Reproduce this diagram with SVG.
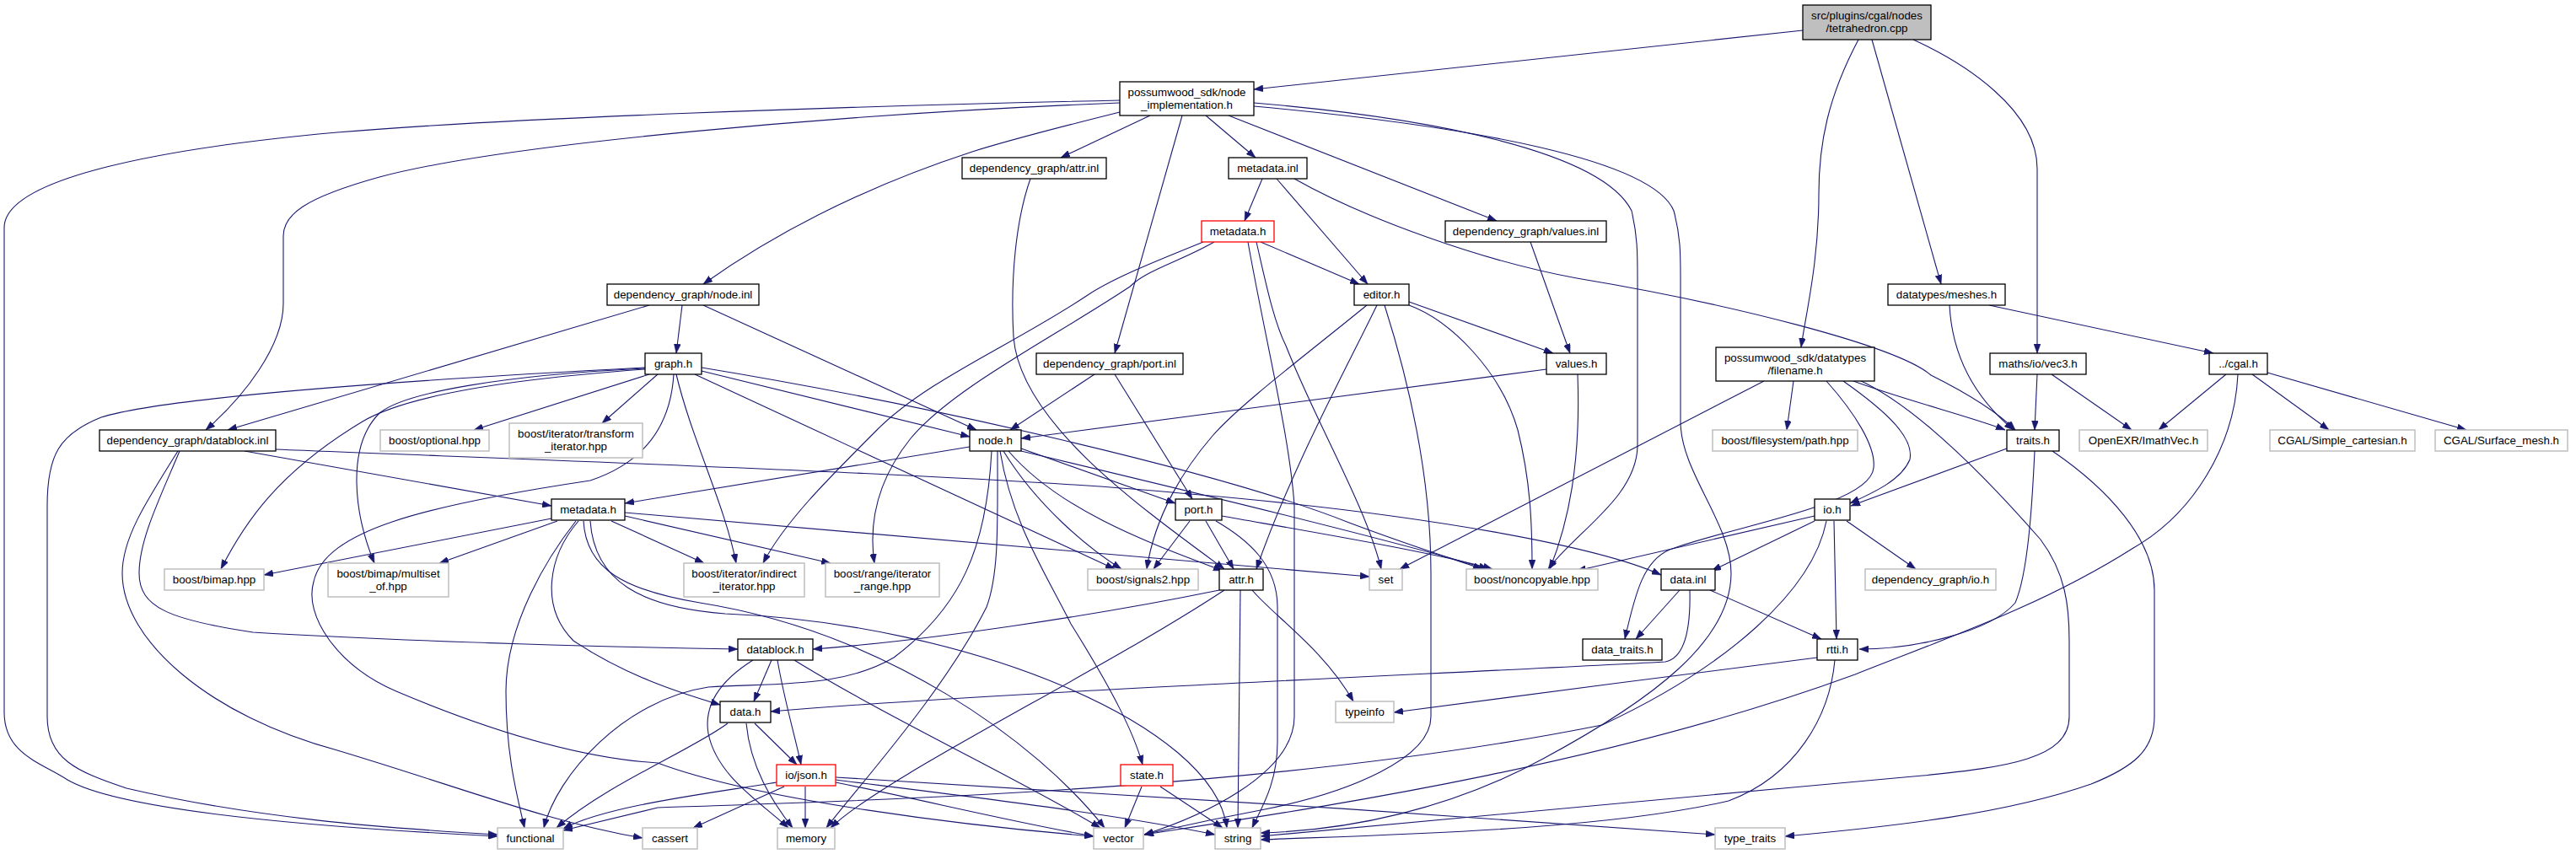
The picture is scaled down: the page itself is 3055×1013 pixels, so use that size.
<svg xmlns="http://www.w3.org/2000/svg" width="3055" height="1013" viewBox="0 0 3055 1013">
<style>
.node rect{fill:#ffffff;stroke:#000000;stroke-width:1.3}
.node.ext rect{stroke:#bfbfbf;stroke-width:1.5}
.node.inc rect{stroke:#ff0000}
.node.root rect{fill:#bfbfbf}
.node text{font-family:"Liberation Sans",Arial,Helvetica,sans-serif;font-size:13.33px;text-anchor:middle;fill:#000000}
#edges path{fill:none;stroke:#191970;stroke-width:1.1;marker-end:url(#arr)}
</style>
<defs>
<marker id="arr" viewBox="0 0 11 8" refX="11" refY="4" markerWidth="11" markerHeight="8" markerUnits="userSpaceOnUse" orient="auto">
<path d="M0,0L11,4L0,8z" fill="#191970" stroke="#191970" stroke-width="0.5"/>
</marker>
</defs>
<rect width="3055" height="1013" fill="#ffffff"/>
<g id="edges">
<path d="M2138,36 L1487,106"/>
<path d="M2204,47 C2168,115 2157,170 2157,230 C2157,310 2142,370 2136,412"/>
<path d="M2220,47 L2302,337"/>
<path d="M2269,47 C2330,75 2416,130 2416,200 L2416,419"/>
<path d="M1328,119 C1000,126 600,140 400,157 C200,175 5,210 5,270 L5,845 C5,895 50,905 80,925 C140,960 350,980 590,992"/>
<path d="M1328,122 C1000,135 600,170 450,210 C360,235 336,255 336,280 L336,360 C336,410 290,470 244,510"/>
<path d="M1328,133 C1260,150 1200,165 1153,180 C1000,230 900,290 834,337"/>
<path d="M1364,137 L1258,187"/>
<path d="M1402,137 L1322,419"/>
<path d="M1430,137 L1489,187"/>
<path d="M1457,137 L1775,262"/>
<path d="M1487,122 C1700,140 1900,180 1935,250 C1942,280 1942,300 1942,330 L1942,530 C1940,590 1870,630 1836,675"/>
<path d="M1487,126 C1750,150 1960,190 1985,250 C1993,280 1993,300 1993,330 L1993,500 C1993,560 2053,620 2053,680 C2053,760 1960,830 1830,900 C1720,960 1600,985 1495,988"/>
<path d="M1222,212 C1205,260 1198,330 1202,400 C1210,500 1350,600 1452,675"/>
<path d="M1497,212 L1476,262"/>
<path d="M1514,212 L1622,337"/>
<path d="M1535,212 C1620,260 1760,310 1870,330 C2050,360 2250,410 2290,445 C2340,470 2370,490 2390,510"/>
<path d="M1495,287 L1612,337"/>
<path d="M1490,287 C1500,330 1510,380 1525,410 C1560,500 1620,600 1638,675"/>
<path d="M1480,287 C1500,400 1530,520 1535,600 L1535,850 C1535,920 1420,970 1357,990"/>
<path d="M1427,287 C1370,310 1320,330 1290,350 C1200,410 1100,450 1040,510 C980,570 930,620 905,668"/>
<path d="M1440,287 C1400,310 1360,320 1340,340 C1250,400 1130,460 1080,520 C1040,570 1030,620 1037,668"/>
<path d="M1815,287 L1862,419"/>
<path d="M1671,358 L1842,419"/>
<path d="M1671,362 C1720,380 1780,440 1800,510 C1815,570 1817,620 1817,675"/>
<path d="M1633,362 C1590,450 1530,560 1490,675"/>
<path d="M1621,362 C1550,420 1470,480 1438,517 C1405,555 1370,610 1360,675"/>
<path d="M1642,362 C1670,450 1697,560 1697,680 L1697,850 C1697,900 1600,940 1500,960 C1420,975 1380,985 1357,990"/>
<path d="M1834,438 L1211,520"/>
<path d="M1871,444 C1875,550 1860,620 1838,675"/>
<path d="M809,362 L802,419"/>
<path d="M834,362 L1158,510"/>
<path d="M770,362 L270,510"/>
<path d="M1298,444 L1198,510"/>
<path d="M1322,444 L1414,592"/>
<path d="M765,436 C500,450 200,470 120,495 C70,515 56,540 56,600 L56,850 C56,900 90,915 150,935 C300,970 450,982 590,990"/>
<path d="M765,437 C600,445 480,465 450,490 C410,530 420,610 444,668"/>
<path d="M765,438 C600,450 480,470 430,500 C330,560 290,620 262,675"/>
<path d="M770,444 L562,510"/>
<path d="M780,444 L714,502"/>
<path d="M802,444 C820,520 860,600 873,668"/>
<path d="M832,440 L1150,518"/>
<path d="M824,444 L1322,675"/>
<path d="M832,436 C1100,480 1450,560 1600,620 C1680,650 1730,665 1758,675"/>
<path d="M799,444 C795,510 760,550 700,570 C500,600 385,630 372,690 C360,730 400,790 470,820 C600,875 700,900 780,905 C900,950 1150,980 1297,992"/>
<path d="M290,535 L654,600"/>
<path d="M327,533 C700,548 1200,565 1400,585 C1700,610 1900,650 1970,682"/>
<path d="M213,535 C190,590 165,640 165,680 C165,720 200,735 300,750 C500,762 750,768 875,770"/>
<path d="M211,535 C170,600 145,640 145,680 C145,760 250,850 400,890 C550,935 650,975 762,994"/>
<path d="M654,615 L313,682"/>
<path d="M661,618 L521,668"/>
<path d="M741,608 L1624,684"/>
<path d="M683,618 C650,660 600,740 600,820 C600,900 615,950 622,982"/>
<path d="M686,618 C650,660 640,720 680,760 C740,800 800,820 854,836"/>
<path d="M725,618 L835,668"/>
<path d="M741,612 L985,668"/>
<path d="M692,618 C695,675 740,700 830,715 C1050,750 1230,880 1310,982"/>
<path d="M700,618 C705,690 760,720 860,728 C1150,740 1440,860 1455,982"/>
<path d="M1150,530 L741,597"/>
<path d="M1211,532 L1394,597"/>
<path d="M1211,535 C1400,580 1650,640 1765,675"/>
<path d="M1190,535 C1230,600 1290,650 1330,675"/>
<path d="M1196,535 C1260,610 1380,650 1450,677"/>
<path d="M1183,535 C1183,620 1185,680 1170,720 C1120,820 1020,930 980,982"/>
<path d="M1186,535 C1200,620 1240,680 1270,740 C1320,820 1345,870 1355,907"/>
<path d="M1176,535 C1170,650 1140,720 1060,780 C1000,815 930,810 840,815 C740,830 660,920 645,982"/>
<path d="M1411,618 L1368,675"/>
<path d="M1430,618 L1463,675"/>
<path d="M1449,612 C1550,630 1700,655 1770,675"/>
<path d="M1442,618 C1480,640 1515,670 1515,720 L1515,880 C1515,930 1495,960 1485,982"/>
<path d="M1446,700 C1300,730 1100,760 964,770"/>
<path d="M1452,700 C1300,800 1050,920 985,982"/>
<path d="M1471,700 L1468,982"/>
<path d="M1485,700 C1510,730 1570,770 1605,832"/>
<path d="M915,783 L894,832"/>
<path d="M922,783 C930,830 942,870 950,907"/>
<path d="M893,783 C850,810 835,840 840,870 C850,920 900,950 935,982"/>
<path d="M942,783 C1050,850 1220,930 1305,982"/>
<path d="M895,858 L945,907"/>
<path d="M885,858 C890,910 915,950 940,982"/>
<path d="M863,858 C820,890 720,930 660,982"/>
<path d="M921,928 C850,940 720,955 668,983"/>
<path d="M930,933 L822,982"/>
<path d="M955,933 L955,982"/>
<path d="M991,928 C1100,950 1200,975 1297,992"/>
<path d="M991,925 C1150,945 1320,965 1441,990"/>
<path d="M991,922 C1300,940 1700,965 2034,990"/>
<path d="M1354,933 L1334,982"/>
<path d="M1376,933 L1450,982"/>
<path d="M1992,700 L1940,758"/>
<path d="M2028,700 L2160,758"/>
<path d="M2004,700 C2005,740 2000,780 1975,785 C1700,800 1200,820 914,844"/>
<path d="M2092,452 L1660,675"/>
<path d="M2127,452 L2119,510"/>
<path d="M2166,452 C2200,490 2225,530 2222,555 C2218,600 2050,625 1980,652 C1950,665 1940,700 1927,758"/>
<path d="M2186,452 C2240,490 2270,520 2265,545 C2255,570 2220,585 2194,597"/>
<path d="M2198,452 C2260,475 2340,495 2378,510"/>
<path d="M2203,450 C2270,480 2350,560 2420,640 C2450,680 2454,720 2454,760 L2454,850 C2454,900 2380,910 2280,920 C2000,945 1700,975 1495,992"/>
<path d="M2380,532 L2195,600"/>
<path d="M2413,535 C2410,600 2405,680 2390,715 C2360,750 2270,770 2205,770"/>
<path d="M2434,535 C2500,580 2555,640 2555,700 L2555,850 C2555,890 2530,910 2480,930 C2380,965 2250,980 2117,992"/>
<path d="M2416,444 L2413,510"/>
<path d="M2433,444 L2528,510"/>
<path d="M2312,362 C2315,420 2340,470 2388,510"/>
<path d="M2359,362 L2625,419"/>
<path d="M2640,444 L2560,510"/>
<path d="M2671,444 L2762,510"/>
<path d="M2689,442 L2925,510"/>
<path d="M2654,444 C2650,530 2600,610 2530,650 C2420,720 2300,760 2200,800 C1900,910 1550,960 1357,990"/>
<path d="M2152,612 L1870,677"/>
<path d="M2152,618 L2030,677"/>
<path d="M2190,618 L2272,675"/>
<path d="M2175,618 L2178,758"/>
<path d="M2166,618 C2150,700 2050,790 1900,860 C1500,940 1000,950 780,958 L668,985"/>
<path d="M2155,780 C2000,800 1800,825 1653,845"/>
<path d="M2176,783 C2170,850 2130,920 2050,950 C1900,985 1650,990 1495,996"/>
</g>
<g id="n_tetrahedron" class="node root"><rect x="2138" y="6" width="152" height="41"/><text x="2214" y="23">src/plugins/cgal/nodes</text><text x="2214" y="37.5">/tetrahedron.cpp</text></g>
<g id="n_node_implementation" class="node"><rect x="1328" y="97" width="159" height="40"/><text x="1407.5" y="114">possumwood_sdk/node</text><text x="1407.5" y="128.5">_implementation.h</text></g>
<g id="n_attr_inl" class="node"><rect x="1141" y="187" width="171" height="25"/><text x="1226.5" y="204">dependency_graph/attr.inl</text></g>
<g id="n_metadata_inl" class="node"><rect x="1457" y="187" width="93" height="25"/><text x="1503.5" y="204">metadata.inl</text></g>
<g id="n_metadata_h_red" class="node inc"><rect x="1425" y="262" width="86" height="25"/><text x="1468" y="279">metadata.h</text></g>
<g id="n_values_inl" class="node"><rect x="1714" y="262" width="191" height="25"/><text x="1809.5" y="279">dependency_graph/values.inl</text></g>
<g id="n_node_inl" class="node"><rect x="720" y="337" width="180" height="25"/><text x="810" y="354">dependency_graph/node.inl</text></g>
<g id="n_editor" class="node"><rect x="1606" y="337" width="65" height="25"/><text x="1638.5" y="354">editor.h</text></g>
<g id="n_meshes" class="node"><rect x="2239" y="337" width="139" height="25"/><text x="2308.5" y="354">datatypes/meshes.h</text></g>
<g id="n_graph" class="node"><rect x="765" y="419" width="67" height="25"/><text x="798.5" y="436">graph.h</text></g>
<g id="n_port_inl" class="node"><rect x="1229" y="419" width="174" height="25"/><text x="1316" y="436">dependency_graph/port.inl</text></g>
<g id="n_values_h" class="node"><rect x="1834" y="419" width="71" height="25"/><text x="1869.5" y="436">values.h</text></g>
<g id="n_filename" class="node"><rect x="2035" y="412" width="188" height="40"/><text x="2129" y="429">possumwood_sdk/datatypes</text><text x="2129" y="443.5">/filename.h</text></g>
<g id="n_vec3" class="node"><rect x="2360" y="419" width="114" height="25"/><text x="2417" y="436">maths/io/vec3.h</text></g>
<g id="n_cgal" class="node"><rect x="2620" y="419" width="69" height="25"/><text x="2654.5" y="436">../cgal.h</text></g>
<g id="n_datablock_inl" class="node"><rect x="118" y="510" width="209" height="25"/><text x="222.5" y="527">dependency_graph/datablock.inl</text></g>
<g id="n_optional" class="node ext"><rect x="451" y="510" width="129" height="25"/><text x="515.5" y="527">boost/optional.hpp</text></g>
<g id="n_transform" class="node ext"><rect x="604" y="502" width="158" height="41"/><text x="683" y="519">boost/iterator/transform</text><text x="683" y="533.5">_iterator.hpp</text></g>
<g id="n_node_h" class="node"><rect x="1150" y="510" width="61" height="25"/><text x="1180.5" y="527">node.h</text></g>
<g id="n_path" class="node ext"><rect x="2031" y="510" width="172" height="25"/><text x="2117" y="527">boost/filesystem/path.hpp</text></g>
<g id="n_traits" class="node"><rect x="2380" y="510" width="62" height="25"/><text x="2411" y="527">traits.h</text></g>
<g id="n_imathvec" class="node ext"><rect x="2466" y="510" width="152" height="25"/><text x="2542" y="527">OpenEXR/ImathVec.h</text></g>
<g id="n_simple_cartesian" class="node ext"><rect x="2692" y="510" width="172" height="25"/><text x="2778" y="527">CGAL/Simple_cartesian.h</text></g>
<g id="n_surface_mesh" class="node ext"><rect x="2888" y="510" width="157" height="25"/><text x="2966.5" y="527">CGAL/Surface_mesh.h</text></g>
<g id="n_metadata_h" class="node"><rect x="654" y="592" width="87" height="25"/><text x="697.5" y="609">metadata.h</text></g>
<g id="n_port_h" class="node"><rect x="1394" y="592" width="55" height="25"/><text x="1421.5" y="609">port.h</text></g>
<g id="n_io_h" class="node"><rect x="2152" y="592" width="42" height="25"/><text x="2173" y="609">io.h</text></g>
<g id="n_bimap" class="node ext"><rect x="195" y="675" width="118" height="25"/><text x="254" y="692">boost/bimap.hpp</text></g>
<g id="n_multiset" class="node ext"><rect x="389" y="668" width="143" height="40"/><text x="460.5" y="685">boost/bimap/multiset</text><text x="460.5" y="699.5">_of.hpp</text></g>
<g id="n_indirect" class="node ext"><rect x="811" y="668" width="143" height="40"/><text x="882.5" y="685">boost/iterator/indirect</text><text x="882.5" y="699.5">_iterator.hpp</text></g>
<g id="n_range" class="node ext"><rect x="979" y="668" width="135" height="40"/><text x="1046.5" y="685">boost/range/iterator</text><text x="1046.5" y="699.5">_range.hpp</text></g>
<g id="n_signals2" class="node ext"><rect x="1290" y="675" width="131" height="25"/><text x="1355.5" y="692">boost/signals2.hpp</text></g>
<g id="n_attr_h" class="node"><rect x="1446" y="675" width="52" height="25"/><text x="1472" y="692">attr.h</text></g>
<g id="n_set" class="node ext"><rect x="1624" y="675" width="39" height="25"/><text x="1643.5" y="692">set</text></g>
<g id="n_noncopyable" class="node ext"><rect x="1739" y="675" width="156" height="25"/><text x="1817" y="692">boost/noncopyable.hpp</text></g>
<g id="n_data_inl" class="node"><rect x="1970" y="675" width="64" height="25"/><text x="2002" y="692">data.inl</text></g>
<g id="n_dg_io" class="node ext"><rect x="2212" y="675" width="155" height="25"/><text x="2289.5" y="692">dependency_graph/io.h</text></g>
<g id="n_datablock_h" class="node"><rect x="875" y="758" width="89" height="25"/><text x="919.5" y="775">datablock.h</text></g>
<g id="n_data_traits" class="node"><rect x="1877" y="758" width="94" height="25"/><text x="1924" y="775">data_traits.h</text></g>
<g id="n_rtti" class="node"><rect x="2155" y="758" width="48" height="25"/><text x="2179" y="775">rtti.h</text></g>
<g id="n_data_h" class="node"><rect x="854" y="832" width="60" height="25"/><text x="884" y="849">data.h</text></g>
<g id="n_typeinfo" class="node ext"><rect x="1584" y="832" width="69" height="25"/><text x="1618.5" y="849">typeinfo</text></g>
<g id="n_json" class="node inc"><rect x="921" y="907" width="70" height="25"/><text x="956" y="924">io/json.h</text></g>
<g id="n_state" class="node inc"><rect x="1329" y="907" width="62" height="25"/><text x="1360" y="924">state.h</text></g>
<g id="n_functional" class="node ext"><rect x="590" y="982" width="78" height="25"/><text x="629" y="999">functional</text></g>
<g id="n_cassert" class="node ext"><rect x="762" y="982" width="65" height="25"/><text x="794.5" y="999">cassert</text></g>
<g id="n_memory" class="node ext"><rect x="922" y="982" width="68" height="25"/><text x="956" y="999">memory</text></g>
<g id="n_vector" class="node ext"><rect x="1297" y="982" width="59" height="25"/><text x="1326.5" y="999">vector</text></g>
<g id="n_string" class="node ext"><rect x="1441" y="982" width="54" height="25"/><text x="1468" y="999">string</text></g>
<g id="n_type_traits" class="node ext"><rect x="2034" y="982" width="83" height="25"/><text x="2075.5" y="999">type_traits</text></g>
</svg>
